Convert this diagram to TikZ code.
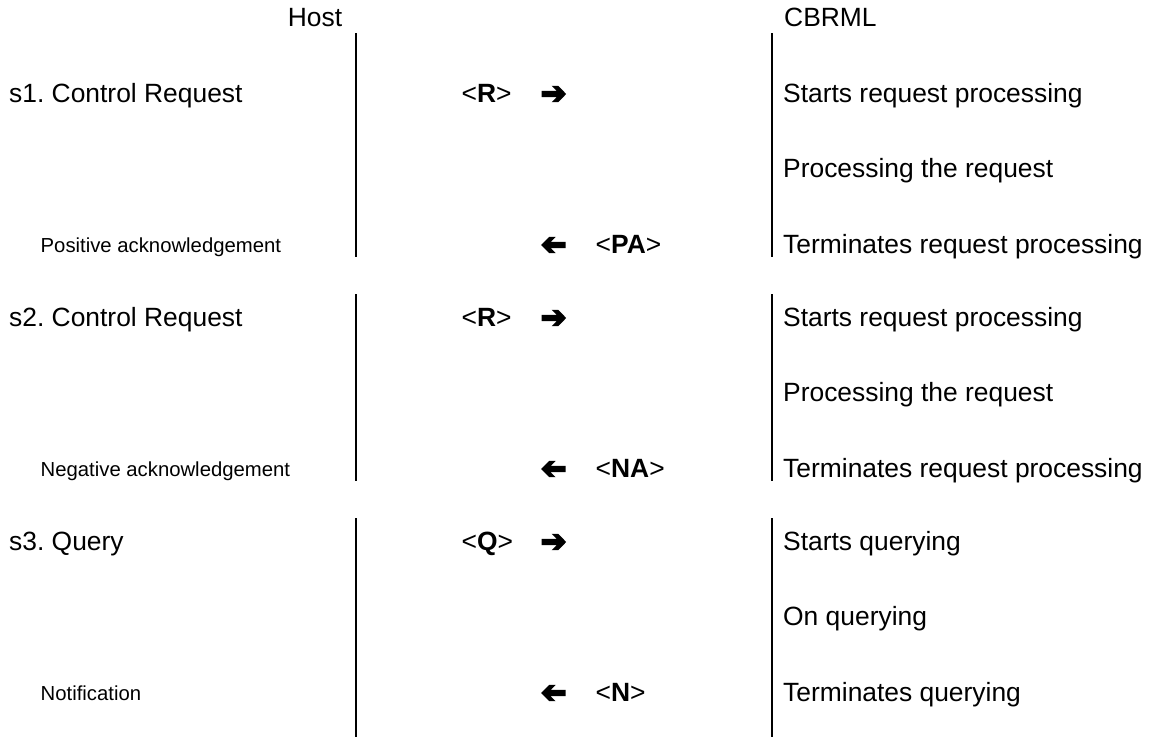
\documentclass[tikz,border=0pt]{standalone}
\usepackage{fontspec}
\setmainfont{Liberation Sans}
\frenchspacing
\begin{document}
\begin{tikzpicture}[x=1pt,y=-1pt,
  big/.style={font=\fontsize{26.4}{30}\selectfont, inner sep=0pt, anchor=base west},
  small/.style={font=\fontsize{20.3}{24}\selectfont, inner sep=0pt, anchor=base west},
  life/.style={line width=2.2pt},
  rarrow/.pic={\fill (-12,-3.2) -- (3,-3.2) -- (-2,-8.2) -- (4.5,-8.2) -- (12.5,0) -- (4.5,8.2) -- (-2,8.2) -- (3,3.2) -- (-12,3.2) -- cycle;},
  larrow/.pic={\fill (12,-3.2) -- (-3,-3.2) -- (2,-8.2) -- (-4.5,-8.2) -- (-12.5,0) -- (-4.5,8.2) -- (2,8.2) -- (-3,3.2) -- (12,3.2) -- cycle;}
]
\useasboundingbox (0,0) rectangle (1151,742);

% headers
\node[big, anchor=base] (host) at (315,26) {Host};
\node[big] (cbrml) at (784,26) {CBRML};

% lifelines
\coordinate (h1t) at (356,33);  \coordinate (h1b) at (356,257);
\coordinate (c1t) at (772,33);  \coordinate (c1b) at (772,257);
\coordinate (h2t) at (356,294); \coordinate (h2b) at (356,481);
\coordinate (c2t) at (772,294); \coordinate (c2b) at (772,481);
\coordinate (h3t) at (356,518); \coordinate (h3b) at (356,737);
\coordinate (c3t) at (772,518); \coordinate (c3b) at (772,737);
\draw[life] (h1t) -- (h1b);
\draw[life] (c1t) -- (c1b);
\draw[life] (h2t) -- (h2b);
\draw[life] (c2t) -- (c2b);
\draw[life] (h3t) -- (h3b);
\draw[life] (c3t) -- (c3b);

% section 1
\node[big] (s1) at (9,102) {s1. Control Request};
\node[big] (r1) at (461.5,102) {<\textbf{R}>};
\pic at (553.7,94) {rarrow};
\node[big] (a1) at (783,102) {Starts request processing};
\node[big] (b1) at (783,177) {Processing the request};
\node[big] (t1) at (783,253) {Terminates request processing};
\node[small] (p1) at (40.5,252) {Positive acknowledgement};
\pic at (553.7,245) {larrow};
\node[big] (pa) at (595.5,253) {<\textbf{PA}>};

% section 2
\node[big] (s2) at (9,326) {s2. Control Request};
\node[big] (r2) at (461.5,326) {<\textbf{R}>};
\pic at (553.7,318) {rarrow};
\node[big] (a2) at (783,326) {Starts request processing};
\node[big] (b2) at (783,401) {Processing the request};
\node[big] (t2) at (783,477) {Terminates request processing};
\node[small] (p2) at (40.5,476) {Negative acknowledgement};
\pic at (553.7,469) {larrow};
\node[big] (na) at (595.5,477) {<\textbf{NA}>};

% section 3
\node[big] (s3) at (9,550) {s3. Query};
\node[big] (q3) at (461.5,550) {<\textbf{Q}>};
\pic at (553.7,542) {rarrow};
\node[big] (a3) at (783,550) {Starts querying};
\node[big] (b3) at (783,625) {On querying};
\node[big] (t3) at (783,701) {Terminates querying};
\node[small] (p3) at (40.5,700) {Notification};
\pic at (553.7,693) {larrow};
\node[big] (n3) at (595.5,701) {<\textbf{N}>};
\end{tikzpicture}
\end{document}
